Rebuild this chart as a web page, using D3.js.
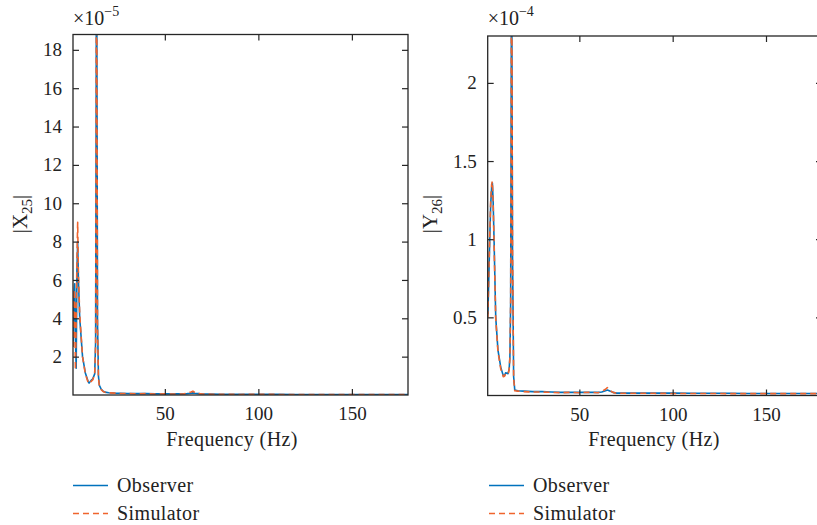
<!DOCTYPE html>
<html>
<head>
<meta charset="utf-8">
<script src="https://cdn.jsdelivr.net/npm/d3@7"></script>
<style>
  body { margin: 0; background: #fff; }
  svg { display: block; font-family: "Liberation Serif", "DejaVu Serif", serif; }
</style>
</head>
<body>
<svg id="chart" width="817" height="525"></svg>
<script>
// --- Dados: |X25| (x1e-5) ---
const freqX = [1.0, 1.4, 1.8, 2.2, 2.6, 3.0, 3.4, 3.8,
  4.5, 6.0, 7.5, 9.0, 9.5, 10.5, 11.5, 12.5,
  13.0, 13.5, 14.0, 14.5, 15, 16, 17, 18,
  20, 23, 26, 30, 35, 40, 45, 50,
  55, 60, 62, 64, 65, 66, 68, 70,
  75, 80, 90, 100, 110, 120, 130, 140,
  150, 160, 170, 180];
const observerX = [2.7, 5.2, 5.8, 3.0, 1.4, 6.5, 8.0, 6.0,
  4.0, 2.0, 1.15, 0.7, 0.62, 0.75, 0.85, 1.1,
  2.8, 26, 3.8, 1.0, 0.5, 0.3, 0.2, 0.15,
  0.12, 0.1, 0.09, 0.08, 0.07, 0.07, 0.06, 0.06,
  0.06, 0.06, 0.07, 0.09, 0.11, 0.09, 0.07, 0.05,
  0.05, 0.04, 0.04, 0.04, 0.04, 0.03, 0.03, 0.03,
  0.03, 0.03, 0.03, 0.03];
const simulatorX = [2.5, 5.5, 4.6, 1.3, 4.0, 7.0, 9.0, 6.3,
  4.2, 2.0, 1.1, 0.66, 0.6, 0.7, 0.8, 1.1,
  2.6, 26, 3.6, 0.9, 0.45, 0.28, 0.18, 0.14,
  0.11, 0.1, 0.08, 0.08, 0.06, 0.07, 0.05, 0.06,
  0.05, 0.06, 0.09, 0.16, 0.2, 0.13, 0.08, 0.05,
  0.04, 0.04, 0.03, 0.04, 0.03, 0.03, 0.03, 0.03,
  0.03, 0.03, 0.03, 0.03];

// --- Dados: |Y26| (x1e-4) ---
const freqY = [1.0, 1.5, 2.0, 2.5, 3.0, 3.4, 3.8, 4.3,
  5.2, 6.4, 7.9, 9.3, 10.0, 10.5, 11.8, 12.4,
  12.8, 13.2, 13.7, 14.2, 14.8, 15.4, 17, 20,
  25, 30, 35, 40, 45, 50, 55, 60,
  62, 64, 65, 66, 68, 70, 80, 90,
  100, 110, 120, 130, 140, 150, 160, 170, 180];
const observerY = [0.52, 0.75, 1.0, 1.22, 1.33, 1.36, 1.25, 1.0,
  0.5, 0.29, 0.18, 0.125, 0.13, 0.145, 0.14, 0.17,
  0.25, 0.6, 3.0, 0.9, 0.12, 0.035, 0.03, 0.028,
  0.025, 0.025, 0.022, 0.02, 0.02, 0.02, 0.02, 0.02,
  0.022, 0.03, 0.035, 0.03, 0.02, 0.015, 0.015, 0.015,
  0.015, 0.014, 0.014, 0.014, 0.013, 0.013, 0.013, 0.013, 0.013];
const simulatorY = [0.5, 0.78, 1.02, 1.25, 1.35, 1.37, 1.24, 0.98,
  0.49, 0.28, 0.17, 0.12, 0.125, 0.14, 0.135, 0.165,
  0.24, 0.6, 3.0, 0.9, 0.11, 0.03, 0.028, 0.025,
  0.022, 0.022, 0.02, 0.018, 0.02, 0.018, 0.02, 0.018,
  0.025, 0.04, 0.05, 0.035, 0.02, 0.014, 0.014, 0.014,
  0.013, 0.013, 0.013, 0.012, 0.012, 0.012, 0.012, 0.012, 0.012];

const xTicks = [50, 100, 150];
const yTicksX = [2, 4, 6, 8, 10, 12, 14, 16, 18];
const yTicksY = [0.5, 1, 1.5, 2];
const seriesNames = ['Observer', 'Simulator'];

const svg = d3.select('#chart');
const corAzul = '#0072BD', corLaranja = '#F0642D', corEixo = '#262626';

const paineis = [
  { id: 'a', freq: freqX, obs: observerX, sim: simulatorX, yMax: 18.8, yTicks: yTicksX,
    x0: 73, x1: 408, top: 34.5, bottom: 395, expo: '−5', label: 'X', sub: '25',
    labelX: 27, labelCy: 214, xlabelCx: 232, legX: 73 },
  { id: 'b', freq: freqY, obs: observerY, sim: simulatorY, yMax: 2.3, yTicks: yTicksY,
    x0: 487.7, x1: 822, top: 36, bottom: 395.5, expo: '−4', label: 'Y', sub: '26',
    labelX: 437, labelCy: 214, xlabelCx: 654, legX: 489 }
];

paineis.forEach(p => {
  const x = d3.scaleLinear().domain([0.9, 180]).range([p.x0, p.x1]);
  const y = d3.scaleLinear().domain([0, p.yMax]).range([p.bottom, p.top]);
  const g = svg.append('g');

  // clip para as linhas
  svg.append('clipPath').attr('id', 'clip-' + p.id)
    .append('rect').attr('x', p.x0).attr('y', p.top)
    .attr('width', p.x1 - p.x0).attr('height', p.bottom - p.top);

  const linha = d3.line().x(d => x(d[0])).y(d => y(d[1]));
  const obsPts = p.freq.map((f, i) => [f, p.obs[i]]);
  const simPts = p.freq.map((f, i) => [f, p.sim[i]]);

  const linhas = g.append('g').attr('clip-path', `url(#clip-${p.id})`);
  linhas.append('path').datum(obsPts).attr('d', linha)
    .attr('fill', 'none').attr('stroke', corAzul).attr('stroke-width', 1.6)
    .attr('stroke-linejoin', 'round');
  linhas.append('path').datum(simPts).attr('d', linha)
    .attr('fill', 'none').attr('stroke', corLaranja).attr('stroke-width', 1.6)
    .attr('stroke-dasharray', '6,4').attr('stroke-linejoin', 'round');

  // eixos com ticks para dentro
  const estilo = sel => {
    sel.select('.domain').remove();
    sel.selectAll('line').attr('stroke', corEixo).attr('stroke-width', 1.2);
    sel.selectAll('text').attr('fill', '#222').style('font-size', '19px')
      .style('font-family', '"Liberation Serif", serif');
  };
  const fmt = d3.format('~g');
  g.append('g').attr('transform', `translate(0,${p.bottom})`)
    .call(d3.axisBottom(x).tickValues(xTicks).tickSizeInner(-6).tickSizeOuter(0).tickPadding(12))
    .call(estilo);
  g.append('g').attr('transform', `translate(0,${p.top})`)
    .call(d3.axisTop(x).tickValues(xTicks).tickSizeInner(-6).tickSizeOuter(0).tickFormat(''))
    .call(estilo);
  g.append('g').attr('transform', `translate(${p.x0},0)`)
    .call(d3.axisLeft(y).tickValues(p.yTicks).tickFormat(fmt).tickSizeInner(-6).tickSizeOuter(0).tickPadding(11))
    .call(estilo);
  g.append('g').attr('transform', `translate(${p.x1},0)`)
    .call(d3.axisRight(y).tickValues(p.yTicks).tickSizeInner(-6).tickSizeOuter(0).tickFormat(''))
    .call(estilo);

  // caixa
  g.append('rect').attr('x', p.x0).attr('y', p.top)
    .attr('width', p.x1 - p.x0).attr('height', p.bottom - p.top)
    .attr('fill', 'none').attr('stroke', corEixo).attr('stroke-width', 1.3);

  // expoente
  const ex = g.append('text').attr('x', p.x0).attr('y', 25)
    .attr('fill', '#222').style('font-size', '20px');
  ex.append('tspan').text('×10');
  ex.append('tspan').attr('dy', -9).style('font-size', '14px').text(p.expo);

  // rótulo x
  g.append('text').attr('x', p.xlabelCx).attr('y', 446)
    .attr('text-anchor', 'middle').attr('fill', '#222').style('font-size', '20px')
    .style('letter-spacing', '0.4px')
    .text('Frequency (Hz)');

  // rótulo y
  const yl = g.append('text')
    .attr('transform', `translate(${p.labelX},${p.labelCy}) rotate(-90)`)
    .attr('text-anchor', 'middle').attr('fill', '#222').style('font-size', '21px');
  yl.append('tspan').text('|' + p.label);
  yl.append('tspan').attr('dy', 5).style('font-size', '15px').text(p.sub);
  yl.append('tspan').attr('dy', -5).text('|');

  // legenda
  const leg = g.append('g').selectAll('g').data(seriesNames).join('g')
    .attr('transform', (d, i) => `translate(${p.legX},${485.5 + i * 28})`);
  leg.append('line').attr('x1', 0).attr('x2', 35).attr('y1', 0).attr('y2', 0)
    .attr('stroke', (d, i) => i === 0 ? corAzul : corLaranja)
    .attr('stroke-width', 1.6)
    .attr('stroke-dasharray', (d, i) => i === 0 ? null : '6,4');
  leg.append('text').attr('x', 44).attr('y', 6).attr('fill', '#222')
    .style('font-size', '20px').style('letter-spacing', '0.4px').text(d => d);
});
</script>
</body>
</html>
